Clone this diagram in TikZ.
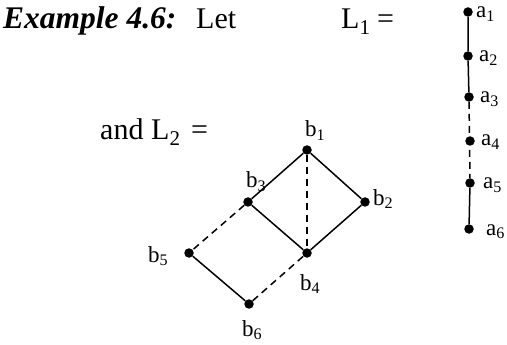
\documentclass[tikz,border=0pt]{standalone}
\usepackage{fontspec}
\setmainfont{Liberation Serif}
\begin{document}
\begin{tikzpicture}[x=1pt,y=-1pt,
  dot/.style={circle,fill=black,inner sep=0pt,minimum size=9.5pt},
  lab/.style={inner sep=0pt,anchor=base west,font=\fontsize{23}{25}\selectfont},
  txt/.style={inner sep=0pt,anchor=base west,font=\fontsize{30}{34}\selectfont},
  edge/.style={line width=1.5pt},
  dedge/.style={line width=1.5pt,dash pattern=on 7pt off 5pt}]
\useasboundingbox (0,0) rectangle (507,345);
% texts
\node[txt,font=\fontsize{31.5}{34}\selectfont] (ex) at (3,29) {\textbf{\textit{Example 4.6:}}};
\node[txt] (let) at (196,29) {Let};
\node[txt] (l1) at (341,29) {L$_{\mathrm{1}}$};
\node[txt] (eq1) at (377,29) {=};
\node[txt] (and) at (100,140) {and};
\node[txt] (l2) at (151,140) {L$_{\mathrm{2}}$};
\node[txt] (eq2) at (191,140) {=};
% L1 chain
\node[dot] (a1) at (468,12) {};
\node[dot] (a2) at (468,56) {};
\node[dot] (a3) at (469,97) {};
\node[dot] (a4) at (470,141) {};
\node[dot] (a5) at (470,183) {};
\node[dot] (a6) at (469,229) {};
\draw[edge] (a1) -- (a2) -- (a3);
\draw[dedge] (a3) -- (a5);
\draw[edge] (a5) -- (a6);
\node[lab] (la1) at (476,18) {a$_{\mathrm{1}}$};
\node[lab] (la2) at (479,62) {a$_{\mathrm{2}}$};
\node[lab] (la3) at (480,103) {a$_{\mathrm{3}}$};
\node[lab] (la4) at (481,146) {a$_{\mathrm{4}}$};
\node[lab] (la5) at (483,189) {a$_{\mathrm{5}}$};
\node[lab] (la6) at (486,235) {a$_{\mathrm{6}}$};
% L2 lattice
\node[dot] (b1) at (307,150) {};
\node[dot] (b2) at (365,202) {};
\node[dot] (b3) at (248,202) {};
\node[dot] (b4) at (307,253) {};
\node[dot] (b5) at (189,253) {};
\node[dot] (b6) at (249,304) {};
\draw[edge] (b3) -- (b1) -- (b2) -- (b4) -- (b3);
\draw[dedge] (b1) -- (b4);
\draw[dedge] (b3) -- (b5);
\draw[edge] (b5) -- (b6);
\draw[dedge] (b6) -- (b4);
\node[lab] (lb1) at (305,137) {b$_{\mathrm{1}}$};
\node[lab] (lb2) at (373,205) {b$_{\mathrm{2}}$};
\node[lab] (lb3) at (246,188) {b$_{\mathrm{3}}$};
\node[lab] (lb4) at (300,290) {b$_{\mathrm{4}}$};
\node[lab] (lb5) at (148,262) {b$_{\mathrm{5}}$};
\node[lab] (lb6) at (242,336) {b$_{\mathrm{6}}$};
\end{tikzpicture}
\end{document}
